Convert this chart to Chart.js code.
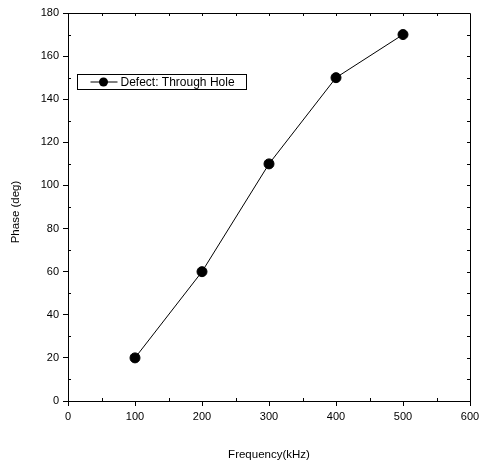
<!DOCTYPE html>
<html>
<head>
<meta charset="utf-8">
<script src="https://cdn.jsdelivr.net/npm/chart.js@4.4.0/dist/chart.umd.min.js"></script>
<style>
  html, body { margin: 0; padding: 0; background: #fff; }
  #wrap { width: 481px; height: 464px; }
</style>
</head>
<body>
<div id="wrap"><canvas id="phaseChart" width="481" height="464"></canvas></div>
<script>
const frequencies = [100, 200, 300, 400, 500];
const phases = [20, 60, 110, 150, 170];
const seriesName = "Defect: Through Hole";
const xTitle = "Frequency(kHz)";
const yTitle = "Phase (deg)";

const FONT = "Arial, 'Liberation Sans', sans-serif";

// frame, minor ticks, axis titles and the boxed legend
const originStyle = {
  id: "originStyle",
  afterDraw(chart) {
    const { ctx, chartArea: a, scales } = chart;
    const xs = scales.x, ys = scales.y;
    ctx.save();
    ctx.strokeStyle = "#000";
    ctx.lineWidth = 1;

    // top + right border
    ctx.beginPath();
    ctx.moveTo(a.left, a.top + 0.5);
    ctx.lineTo(a.right + 0.5, a.top + 0.5);
    ctx.lineTo(a.right + 0.5, a.bottom);
    ctx.stroke();

    ctx.beginPath();
    // bottom minor ticks (inward) + top ticks (inward)
    for (let v = 0; v <= 600; v += 50) {
      const px = Math.round(xs.getPixelForValue(v)) + 0.5;
      if (v % 100 !== 0) {
        ctx.moveTo(px, a.bottom);
        ctx.lineTo(px, a.bottom - 3);
      }
      if (v > 0 && v < 600) {
        ctx.moveTo(px, a.top);
        ctx.lineTo(px, a.top + 3);
      }
    }
    // left minor ticks (inward) + right ticks (inward)
    for (let v = 0; v <= 180; v += 10) {
      const py = Math.round(ys.getPixelForValue(v)) + 0.5;
      if (v % 20 !== 0) {
        ctx.moveTo(a.left, py);
        ctx.lineTo(a.left + 3, py);
      }
      if (v > 0 && v < 180) {
        ctx.moveTo(a.right, py);
        ctx.lineTo(a.right - 3, py);
      }
    }
    ctx.stroke();

    // axis titles
    ctx.fillStyle = "#000";
    ctx.font = "11.5px " + FONT;
    ctx.textAlign = "center";
    ctx.textBaseline = "middle";
    ctx.fillText(xTitle, (a.left + a.right) / 2, 455);
    ctx.save();
    ctx.translate(16, 212);
    ctx.rotate(-Math.PI / 2);
    ctx.fillText(yTitle, 0, 0);
    ctx.restore();

    // legend box
    const bx = 77.5, by = 74.5, bw = 169, bh = 15;
    ctx.strokeRect(bx, by, bw, bh);
    const cy = by + bh / 2;
    ctx.beginPath();
    ctx.moveTo(bx + 13, cy);
    ctx.lineTo(bx + 40, cy);
    ctx.stroke();
    ctx.beginPath();
    ctx.arc(bx + 26, cy, 4.5, 0, Math.PI * 2);
    ctx.fill();
    ctx.font = "12px " + FONT;
    ctx.textAlign = "left";
    ctx.fillText(seriesName, bx + 43, cy + 0.5);
    ctx.restore();
  }
};

const ctx = document.getElementById("phaseChart").getContext("2d");

new Chart(ctx, {
  type: "line",
  data: {
    datasets: [
      {
        label: seriesName,
        data: frequencies.map((f, i) => ({ x: f, y: phases[i] })),
        borderColor: "#000",
        backgroundColor: "#000",
        borderWidth: 1,
        pointRadius: 5,
        pointHoverRadius: 5,
        tension: 0,
      },
    ],
  },
  options: {
    responsive: false,
    animation: false,
    events: [],
    layout: { padding: { top: 13, right: 11, left: 0, bottom: 0 } },
    plugins: { legend: { display: false }, tooltip: { enabled: false } },
    scales: {
      x: {
        type: "linear",
        min: 0,
        max: 600,
        afterFit(s) {
          s.height = 63;
          s.paddingLeft = 0;
          s.paddingRight = 0;
        },
        ticks: {
          stepSize: 100,
          color: "#000",
          padding: 4,
          maxRotation: 0,
          font: { family: FONT, size: 11 },
        },
        grid: { drawOnChartArea: false, drawTicks: true, tickLength: 5, color: "#000" },
        border: { display: true, color: "#000", width: 1 },
      },
      y: {
        min: 0,
        max: 180,
        afterFit(s) {
          s.width = 68;
          s.paddingTop = 0;
          s.paddingBottom = 0;
        },
        ticks: {
          stepSize: 20,
          color: "#000",
          padding: 4,
          font: { family: FONT, size: 11 },
        },
        grid: { drawOnChartArea: false, drawTicks: true, tickLength: 5, color: "#000" },
        border: { display: true, color: "#000", width: 1 },
      },
    },
  },
  plugins: [originStyle],
});
</script>
</body>
</html>
